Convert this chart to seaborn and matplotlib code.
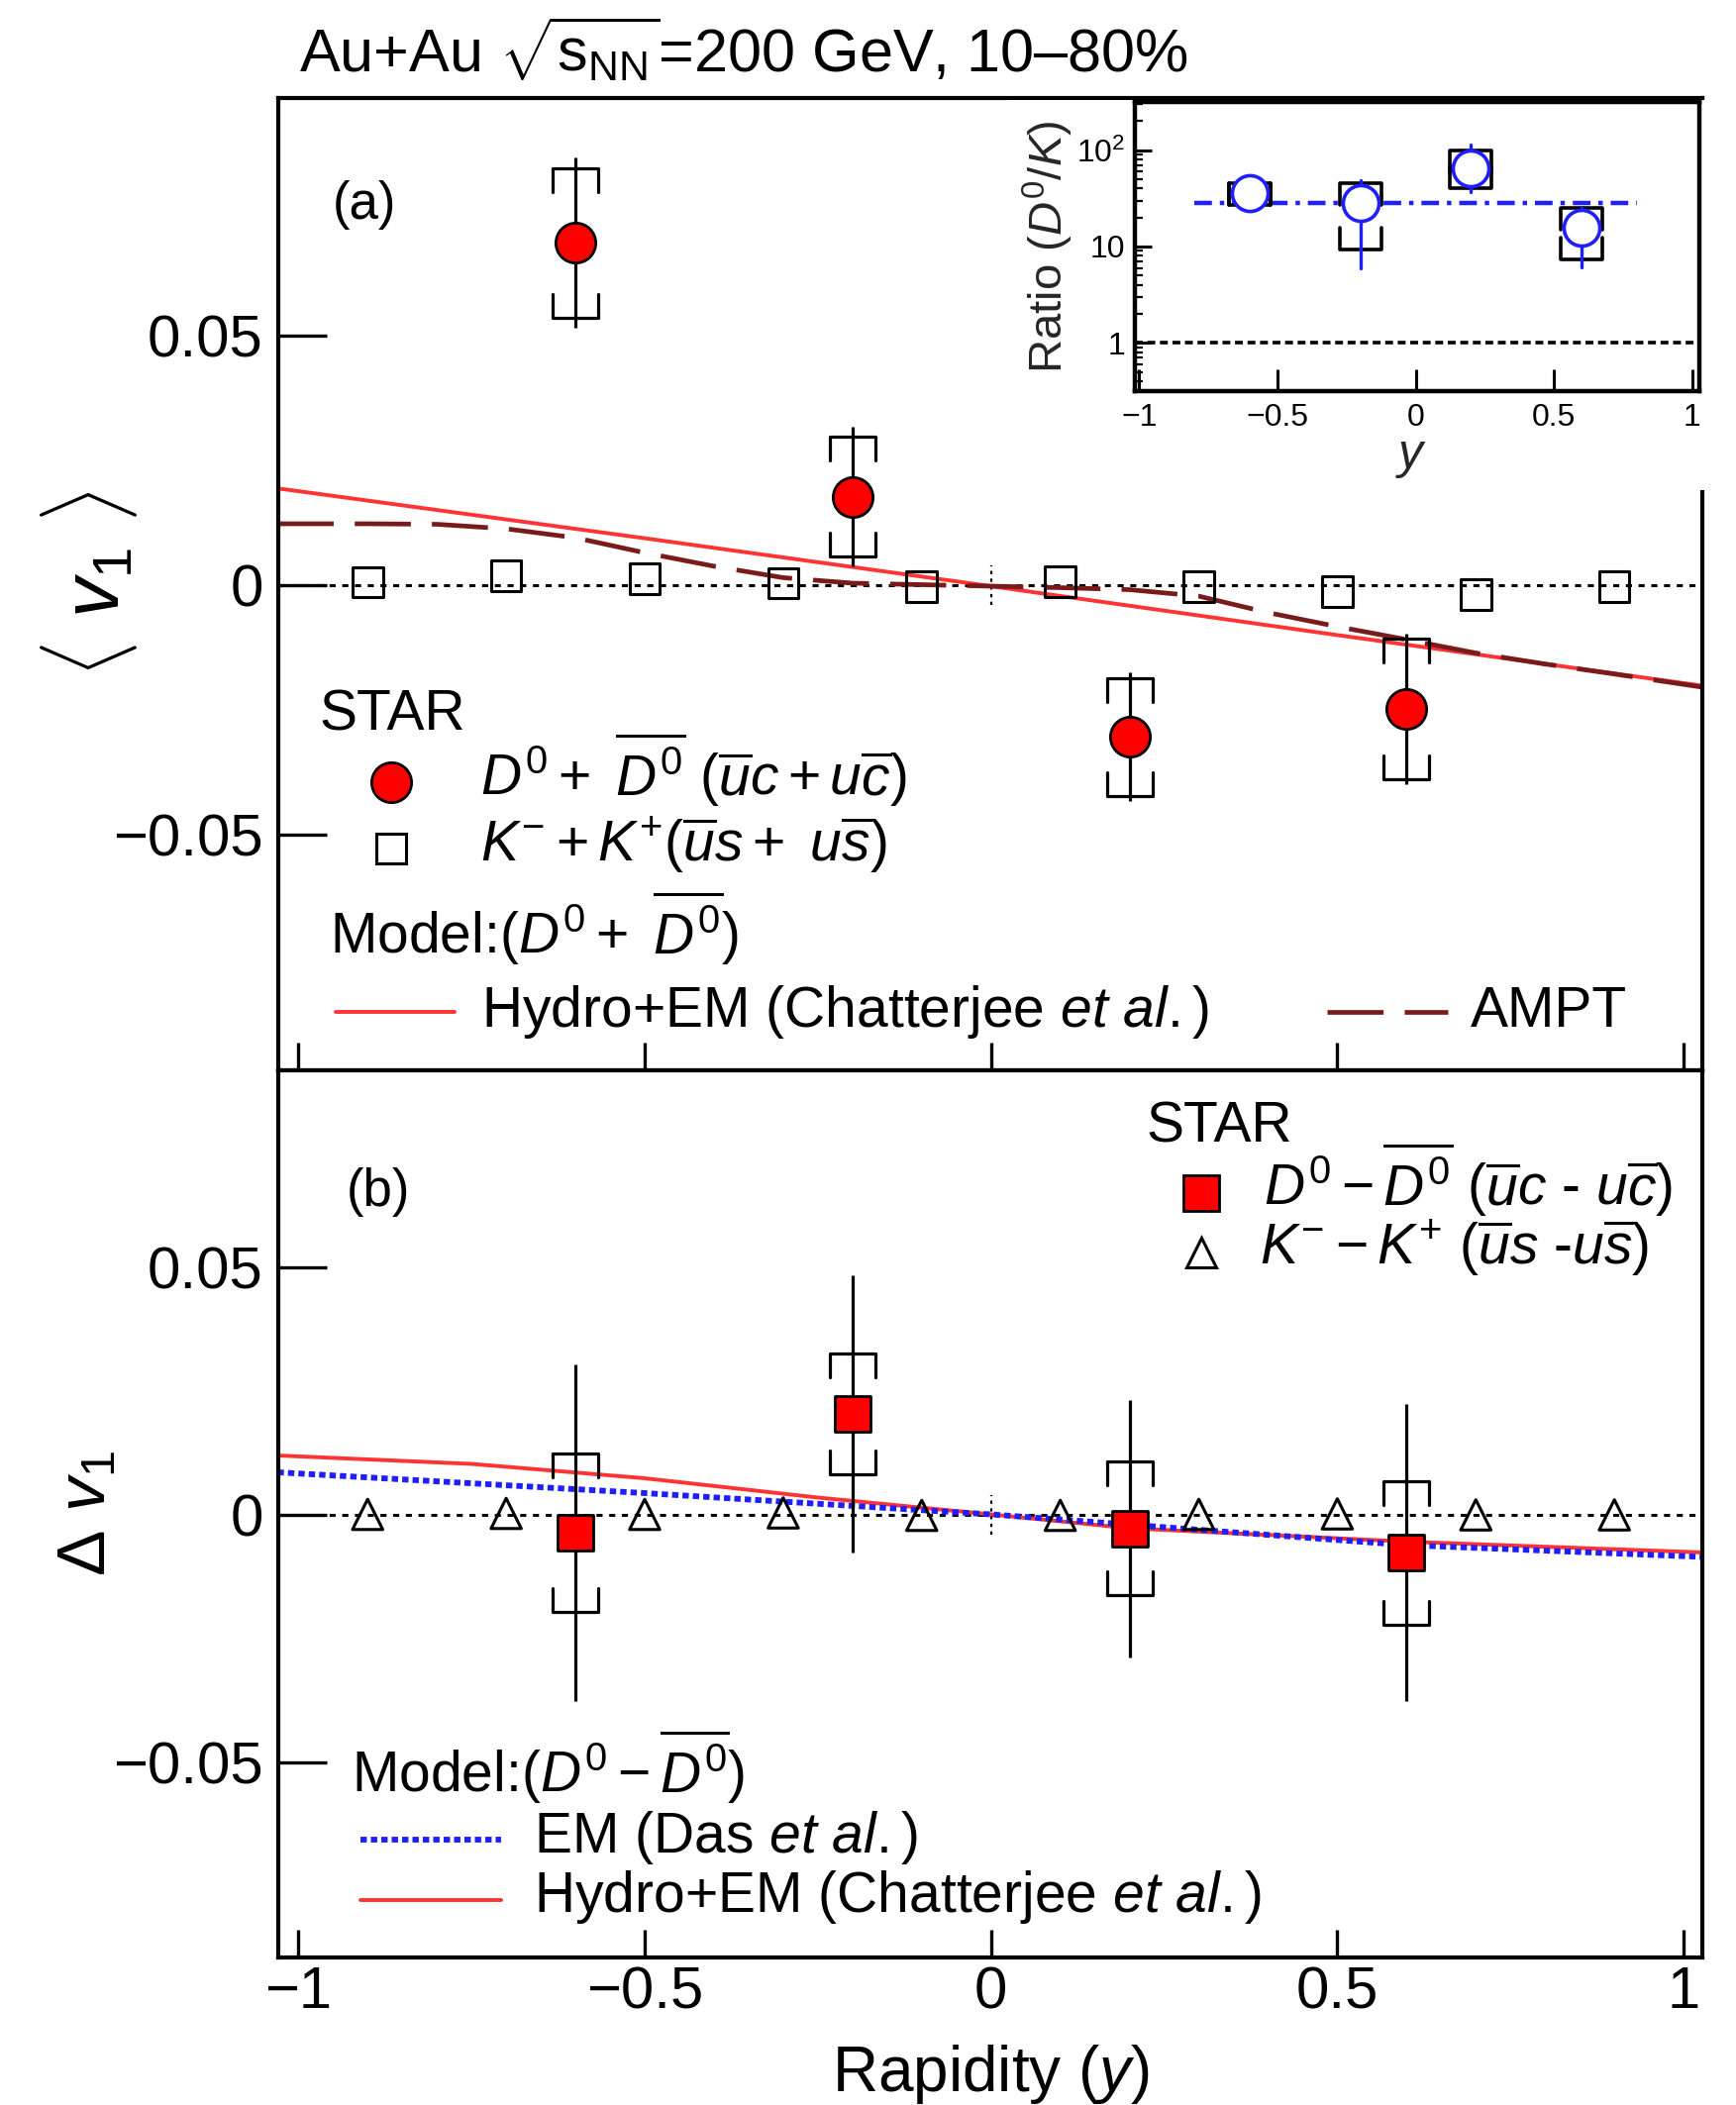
import numpy as np
import pandas as pd
import matplotlib
matplotlib.use("Agg")
import matplotlib.pyplot as plt
from matplotlib.patches import Rectangle
from matplotlib.ticker import FixedLocator, LogLocator, NullFormatter
import seaborn as sns

# ---------------- data ----------------
# (a) directed flow of D0 + D0bar and K- + K+
y_d0 = [-0.6, -0.2, 0.2, 0.6]
v1_d0_sum = [0.0686, 0.0177, -0.0304, -0.0248]
v1_d0_sum_stat = [0.0170, 0.0140, 0.0129, 0.0150]
v1_d0_sum_sys = [0.0150, 0.0120, 0.0118, 0.0140]

y_k = [-0.9, -0.7, -0.5, -0.3, -0.1, 0.1, 0.3, 0.5, 0.7, 0.9]
v1_k_sum = [0.0006, 0.0019, 0.0013, 0.0004, -0.0003, 0.0007, -0.0003, -0.0013, -0.0019, -0.0003]

# (a) models
y_hydro_sum = [-1.03, -0.5, 0.0, 0.5, 1.03]
v1_hydro_sum = [0.0194, 0.0094, -0.0002, -0.0100, -0.0202]
y_ampt = [-1.03, -0.9, -0.8, -0.7, -0.6, -0.5, -0.4, -0.3, -0.2, -0.1, 0.0,
          0.1, 0.2, 0.3, 0.4, 0.5, 0.6, 0.7, 0.8, 0.9, 1.03]
v1_ampt = [0.0123, 0.0123, 0.0122, 0.0113, 0.0095, 0.0065, 0.0038, 0.0015, 0.0004, 0.0001, -0.0002,
           -0.0005, -0.0009, -0.0022, -0.0055, -0.0083, -0.0109, -0.0136, -0.0158, -0.0178, -0.0205]

# (b) difference D0 - D0bar and K- - K+
dv1_d0 = [-0.0036, 0.0204, -0.0028, -0.0077]
dv1_d0_stat = [0.0340, 0.0280, 0.0260, 0.0300]
dv1_d0_sys = [0.0160, 0.0122, 0.0135, 0.0145]
dv1_k = [0.0000, 0.0002, 0.0000, 0.0003, -0.0002, -0.0002, 0.0000, 0.0001, -0.0001, -0.0001]

# (b) models
y_em_diff = [-1.03, -0.5, 0.0, 0.6, 1.03]
dv1_em = [0.0085, 0.0043, 0.0000, -0.0062, -0.0086]
y_hydro_diff = [-1.03, -0.75, -0.5, -0.25, 0.0, 0.2, 0.6, 1.03]
dv1_hydro = [0.0119, 0.0102, 0.0073, 0.0034, 0.0000, -0.0028, -0.0055, -0.0077]

# inset: ratio of D0 to K slopes
y_ratio = [-0.6, -0.2, 0.2, 0.6]
ratio = [36.0, 28.4, 65.0, 15.7]
ratio_stat_lo = [31.0, 5.9, 37.0, 6.1]
ratio_stat_hi = [42.0, 49.0, 115.0, 25.0]
ratio_sys_lo = [27.3, 9.4, 40.5, 7.4]
ratio_sys_hi = [45.5, 45.5, 100.0, 25.2]
ratio_fit_range = [-0.8, 0.8]
ratio_fit = [28.4, 28.4]

xticks_main = [-1, -0.5, 0, 0.5, 1]
xtick_labels = ["\u22121", "\u22120.5", "0", "0.5", "1"]
yticks_main = [-0.05, 0, 0.05]
ytick_labels = ["\u22120.05", "0", "0.05"]

# ---------------- style ----------------
sns.set_theme(style="ticks")
plt.rcParams.update({
    "font.family": ["Liberation Sans", "DejaVu Sans"],
    "mathtext.fontset": "custom",
    "mathtext.rm": "Liberation Sans",
    "mathtext.it": "Liberation Sans:italic",
    "mathtext.bf": "Liberation Sans:bold",
    "mathtext.sf": "Liberation Sans",
    "axes.linewidth": 3.0,
    "axes.edgecolor": "black",
    "text.color": "black",
    "xtick.color": "black",
    "ytick.color": "black",
})

W, H = 1753, 2126
fig = plt.figure(figsize=(W / 100, H / 100), dpi=100)
fig.patch.set_facecolor("white")


def fpos(px, py):
    return px / W, 1 - py / H


RED_LINE = "#ff3333"
AMPT_COL = "#7a1b1b"
BLUE = "#1e1eff"
ZERO_LS = (0, (2.0, 2.2))

ax_a = fig.add_axes([281 / W, 1 - 1081 / H, 1438 / W, 982 / H])
ax_b = fig.add_axes([281 / W, 1 - 1977 / H, 1438 / W, 896 / H])

XLIM = (-1.029, 1.027)
ax_a.set_xlim(*XLIM)
ax_b.set_xlim(*XLIM)
ax_a.set_ylim(-0.0972, 0.0976)
ax_b.set_ylim(-0.0895, 0.0897)

for ax in (ax_a, ax_b):
    ax.set_facecolor("white")
    for s in ax.spines.values():
        s.set_linewidth(3.0)
        s.set_visible(True)
    ax.xaxis.set_major_locator(FixedLocator(xticks_main))
    ax.yaxis.set_major_locator(FixedLocator(yticks_main))
    ax.set_yticklabels(ytick_labels, fontsize=43)
    ax.tick_params(axis="y", direction="in", length=35, width=2.4, pad=11,
                   left=True, right=False)
    ax.tick_params(axis="x", direction="in", length=20, width=2.4, pad=6,
                   bottom=True, top=False)
    # zero reference
    ax.axhline(0, color="black", lw=2.2, ls=ZERO_LS, zorder=1)
    ax.vlines(0, -0.004, 0.004, color="black", lw=1.6, ls=(0, (1.5, 2.0)), zorder=1)

ax_a.set_xticklabels([])
ax_b.set_xticklabels(xtick_labels, fontsize=43)


def draw_errors(ax, x, y, stat, sys, px_per_unit_y, color="black"):
    half_w = 23 / 699.6
    leg = 24 / px_per_unit_y
    for xi, yi, st, sy in zip(x, y, stat, sys):
        ax.plot([xi, xi], [yi - st, yi + st], color=color, lw=2.3, zorder=3,
                solid_capstyle="butt")
        hi, lo = yi + sy, yi - sy
        ax.plot([xi - half_w, xi - half_w, xi + half_w, xi + half_w],
                [hi - leg, hi, hi, hi - leg], color=color, lw=2.3, zorder=3)
        ax.plot([xi - half_w, xi - half_w, xi + half_w, xi + half_w],
                [lo + leg, lo, lo, lo + leg], color=color, lw=2.3, zorder=3)


# ---------------- panel (a) ----------------
df_hydro_a = pd.DataFrame({"y": y_hydro_sum, "v1": v1_hydro_sum})
df_ampt = pd.DataFrame({"y": y_ampt, "v1": v1_ampt})
sns.lineplot(data=df_hydro_a, x="y", y="v1", ax=ax_a, color=RED_LINE, lw=2.8,
             estimator=None, sort=False, legend=False, zorder=2)
sns.lineplot(data=df_ampt, x="y", y="v1", ax=ax_a, color=AMPT_COL, lw=3.4,
             linestyle=(0, (12, 4.5)), estimator=None, sort=False, legend=False, zorder=2)

df_k_a = pd.DataFrame({"y": y_k, "v1": v1_k_sum})
sns.scatterplot(data=df_k_a, x="y", y="v1", ax=ax_a, marker="s", s=22 ** 2,
                color="black", linewidth=2.2, legend=False, zorder=4)
ax_a.collections[-1].set_facecolor("none")
ax_a.collections[-1].set_edgecolor("black")

draw_errors(ax_a, y_d0, v1_d0_sum, v1_d0_sum_stat, v1_d0_sum_sys, 5040)
df_d0_a = pd.DataFrame({"y": y_d0, "v1": v1_d0_sum})
sns.scatterplot(data=df_d0_a, x="y", y="v1", ax=ax_a, marker="o", s=29 ** 2,
                color="#ff0000", edgecolor="black", linewidth=2.0, legend=False, zorder=5)
ax_a.set_xlabel("")
ax_a.set_ylabel("")

# ---------------- panel (b) ----------------
df_em = pd.DataFrame({"y": y_em_diff, "dv1": dv1_em})
df_hydro_b = pd.DataFrame({"y": y_hydro_diff, "dv1": dv1_hydro})
sns.lineplot(data=df_hydro_b, x="y", y="dv1", ax=ax_b, color=RED_LINE, lw=2.8,
             estimator=None, sort=False, legend=False, zorder=2)
sns.lineplot(data=df_em, x="y", y="dv1", ax=ax_b, color=BLUE, lw=4.2,
             linestyle=(0, (1.1, 0.7)), estimator=None, sort=False, legend=False, zorder=2)

df_k_b = pd.DataFrame({"y": y_k, "dv1": dv1_k})
sns.scatterplot(data=df_k_b, x="y", y="dv1", ax=ax_b, marker="^", s=22 ** 2,
                color="black", linewidth=2.2, legend=False, zorder=4)
ax_b.collections[-1].set_facecolor("none")
ax_b.collections[-1].set_edgecolor("black")

draw_errors(ax_b, y_d0, dv1_d0, dv1_d0_stat, dv1_d0_sys, 5000)
df_d0_b = pd.DataFrame({"y": y_d0, "dv1": dv1_d0})
sns.scatterplot(data=df_d0_b, x="y", y="dv1", ax=ax_b, marker="s", s=26 ** 2,
                color="#ff0000", edgecolor="black", linewidth=2.0, legend=False, zorder=5)
ax_b.set_xlabel("")
ax_b.set_ylabel("")

# ---------------- axis titles ----------------
fig.text(*fpos(90, 590), r"$\langle\ v_{1}\ \rangle$", fontsize=58, rotation=90,
         ha="center", va="center")
fig.text(*fpos(88, 1528), r"$\Delta\ v_{1}$", fontsize=50, rotation=90,
         ha="center", va="center")
fig.text(*fpos(1000, 2112), r"Rapidity ($y$)", fontsize=46, ha="center", va="baseline")
fig.text(*fpos(302, 72), r"Au+Au $\sqrt{\mathrm{s}_{\mathrm{NN}}}$=200 GeV, 10" + "\u2013" + "80%",
         fontsize=44, ha="left", va="baseline")

# panel tags
fig.text(*fpos(336, 221), "(a)", fontsize=38, ha="left", va="baseline")
fig.text(*fpos(350, 1218), "(b)", fontsize=38, ha="left", va="baseline")

# ---------------- legend (a) ----------------
TXT = 41
fig.text(*fpos(322, 738), "STAR", fontsize=TXT, ha="left", va="baseline")
fig.text(*fpos(485, 803), r"$D^{0}+\ \overline{D^{0}}\ (\overline{u}c+u\overline{c})$",
         fontsize=TXT, ha="left", va="baseline")
fig.text(*fpos(485, 870), r"$K^{-}+K^{+}(\overline{u}s+\ u\overline{s})$",
         fontsize=TXT, ha="left", va="baseline")
fig.text(*fpos(333, 963), r"Model:$(D^{0}+\ \overline{D^{0}})$",
         fontsize=TXT, ha="left", va="baseline")
fig.text(*fpos(486, 1037), r"Hydro+EM (Chatterjee $et\ al.$)",
         fontsize=TXT, ha="left", va="baseline")
fig.text(*fpos(1485, 1037), "AMPT", fontsize=TXT, ha="left", va="baseline")

ax_a.plot(*fpos(395, 790), marker="o", ms=29, mfc="#ff0000", mec="black", mew=2.0,
          transform=fig.transFigure, clip_on=False, zorder=6)
ax_a.plot(*fpos(395, 857), marker="s", ms=22, mfc="none", mec="black", mew=2.2,
          transform=fig.transFigure, clip_on=False, zorder=6)
ax_a.plot([339 / W, 459 / W], [1 - 1022 / H] * 2, color=RED_LINE, lw=2.8,
          transform=fig.transFigure, clip_on=False)
ax_a.plot([1340 / W, 1462 / W], [1 - 1022 / H] * 2, color=AMPT_COL, lw=3.4,
          ls=(0, (12, 4.5)), transform=fig.transFigure, clip_on=False)

# ---------------- legend (b) ----------------
fig.text(*fpos(1157, 1153), "STAR", fontsize=TXT, ha="left", va="baseline")
fig.text(*fpos(1276, 1217), r"$D^{0}-\overline{D^{0}}\ (\overline{u}c$ - $u\overline{c})$",
         fontsize=TXT, ha="left", va="baseline")
fig.text(*fpos(1272, 1277), r"$K^{-}-K^{+}\ (\overline{u}s$ -$u\overline{s})$",
         fontsize=TXT, ha="left", va="baseline")
ax_b.plot(*fpos(1213, 1205), marker="s", ms=26, mfc="#ff0000", mec="black", mew=2.0,
          transform=fig.transFigure, clip_on=False, zorder=6)
ax_b.plot(*fpos(1213, 1265), marker="^", ms=22, mfc="none", mec="black", mew=2.2,
          transform=fig.transFigure, clip_on=False, zorder=6)

fig.text(*fpos(355, 1810), r"Model:$(D^{0}-\overline{D^{0}})$", fontsize=TXT,
         ha="left", va="baseline")
fig.text(*fpos(539, 1871), r"EM (Das $et\ al.$)", fontsize=TXT, ha="left", va="baseline")
fig.text(*fpos(539, 1931), r"Hydro+EM (Chatterjee $et\ al.$)", fontsize=TXT,
         ha="left", va="baseline")
ax_b.plot([364 / W, 506 / W], [1 - 1858 / H] * 2, color=BLUE, lw=4.2,
          ls=(0, (1.1, 0.7)), transform=fig.transFigure, clip_on=False)
ax_b.plot([364 / W, 506 / W], [1 - 1919 / H] * 2, color=RED_LINE, lw=2.8,
          transform=fig.transFigure, clip_on=False)

# ---------------- inset ----------------
fig.add_artist(Rectangle((1017 / W, 1 - 495 / H), (1729 - 1017) / W, (495 - 101) / H,
                         transform=fig.transFigure, facecolor="white",
                         edgecolor="none", zorder=5))
ax_in = fig.add_axes([1146 / W, 1 - 395 / H, 570 / W, 292 / H], zorder=10)
ax_in.set_facecolor("white")
ax_in.set_yscale("log")
ax_in.set_xlim(-1.016, 1.026)
ax_in.set_ylim(10 ** -0.5, 10 ** 2.5)
for s in ax_in.spines.values():
    s.set_linewidth(3.2)
    s.set_visible(True)
ax_in.yaxis.set_major_locator(FixedLocator([1, 10, 100]))
ax_in.set_yticklabels(["1", "10", r"$10^{2}$"], fontsize=23)
ax_in.yaxis.set_minor_locator(LogLocator(base=10, subs=np.arange(2, 10)))
ax_in.yaxis.set_minor_formatter(NullFormatter())
ax_in.xaxis.set_major_locator(FixedLocator(xticks_main))
ax_in.set_xticklabels(xtick_labels, fontsize=23)
ax_in.tick_params(axis="y", which="major", direction="in", length=12, width=2.2,
                  pad=7, left=True, right=False)
ax_in.tick_params(axis="y", which="minor", direction="in", length=6, width=1.6,
                  left=True, right=False)
ax_in.tick_params(axis="x", direction="in", length=16, width=2.2, pad=9,
                  bottom=True, top=False)

ax_in.axhline(1, color="black", lw=2.6, ls=(0, (2.2, 1.3)), zorder=1)
df_fit = pd.DataFrame({"y": ratio_fit_range, "r": ratio_fit})
sns.lineplot(data=df_fit, x="y", y="r", ax=ax_in, color=BLUE, lw=3.2,
             linestyle=(0, (4, 1.8, 1, 1.8)), estimator=None, sort=False,
             legend=False, zorder=2)

# systematic brackets (black) and statistical bars (blue)
half_w_in = 21 / 279.0
leg_dec = 22 / 97.5
for xi, lo, hi in zip(y_ratio, ratio_sys_lo, ratio_sys_hi):
    ax_in.plot([xi - half_w_in, xi - half_w_in, xi + half_w_in, xi + half_w_in],
               [hi / 10 ** leg_dec, hi, hi, hi / 10 ** leg_dec], color="black", lw=2.6, zorder=3)
    ax_in.plot([xi - half_w_in, xi - half_w_in, xi + half_w_in, xi + half_w_in],
               [lo * 10 ** leg_dec, lo, lo, lo * 10 ** leg_dec], color="black", lw=2.6, zorder=3)
for xi, lo, hi in zip(y_ratio, ratio_stat_lo, ratio_stat_hi):
    ax_in.plot([xi, xi], [lo, hi], color=BLUE, lw=2.4, zorder=4)
df_ratio = pd.DataFrame({"y": y_ratio, "r": ratio})
sns.scatterplot(data=df_ratio, x="y", y="r", ax=ax_in, marker="o", s=26 ** 2,
                color=BLUE, linewidth=2.6, legend=False, zorder=5)
ax_in.collections[-1].set_facecolor("white")
ax_in.collections[-1].set_edgecolor(BLUE)
ax_in.set_xlabel("$y$", fontsize=36)
ax_in.set_ylabel(r"Ratio ($D^{0}/K$)", fontsize=34)
ax_in.xaxis.set_label_coords(0.49, -0.15)
ax_in.yaxis.set_label_coords(-0.105, 0.5)

fig.savefig("out.png", dpi=100, facecolor="white")
